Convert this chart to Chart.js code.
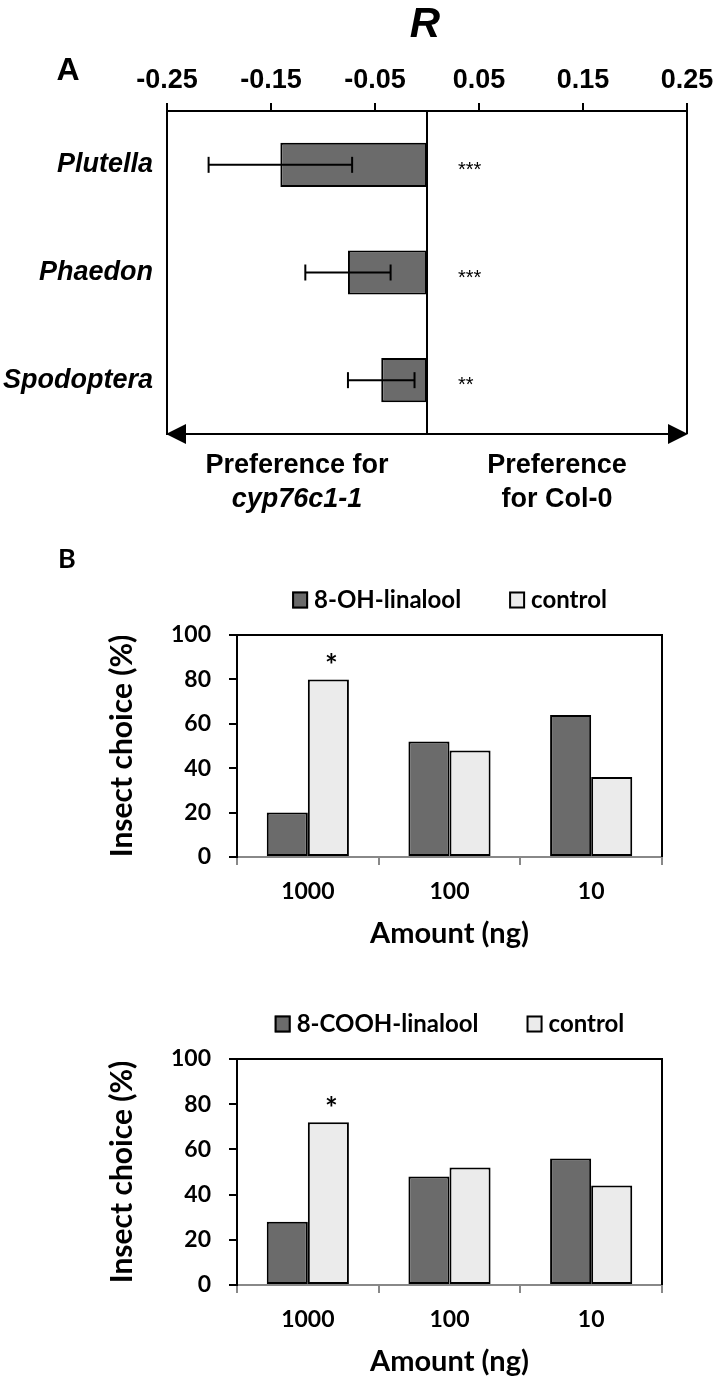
<!DOCTYPE html>
<html>
<head>
<meta charset="utf-8">
<title>R preference and insect choice</title>
<script src="https://cdn.jsdelivr.net/npm/chart.js@4.4.1/dist/chart.umd.min.js"></script>
<style>
  html, body { margin: 0; padding: 0; background: #fff; width: 713px; height: 1381px; overflow: hidden; }
  canvas { position: absolute; left: 0; }
  #chartA { top: 0; }
  #chartB1 { top: 540px; }
  #chartB2 { top: 960px; }
</style>
</head>
<body>
<canvas id="chartA" width="740" height="530"></canvas>
<canvas id="chartB1" width="713" height="420"></canvas>
<canvas id="chartB2" width="713" height="421"></canvas>
<script>
// ---- Panel A : R index (mean +/- error) per insect
const INSECTS = ['Plutella', 'Phaedon', 'Spodoptera'];
const R_MEAN = [-0.141, -0.076, -0.044];
const R_ERR = [0.069, 0.041, 0.032];
const R_SIG = ['***', '***', '**'];
const R_TICKS = [-0.25, -0.15, -0.05, 0.05, 0.15, 0.25];

// ---- Panel B : insect choice (%) per amount
const AMOUNTS = ['1000', '100', '10'];
const OH_LINALOOL = [20, 52, 64];
const OH_CONTROL = [80, 48, 36];
const COOH_LINALOOL = [28, 48, 56];
const COOH_CONTROL = [72, 52, 44];
const OH_SIG = ['*', '', ''];
const COOH_SIG = ['*', '', ''];
const PCT_TICKS = [0, 20, 40, 60, 80, 100];

const ARIAL = '"Liberation Sans", Arial, sans-serif';
const LATO = 'Lato, "Open Sans", sans-serif';
const DARK = '#6b6b6b';
const LIGHT = '#ebebeb';

function line(ctx, x1, y1, x2, y2){
  ctx.beginPath(); ctx.moveTo(x1, y1); ctx.lineTo(x2, y2); ctx.stroke();
}

// extra drawing for panel A: frame, zero line, error bars, stars, arrow, texts
const panelAExtras = {
  id: 'panelAExtras',
  afterDatasetsDraw(chart){
    const {ctx, chartArea: a, scales: {x}} = chart;
    const meta = chart.getDatasetMeta(0);
    const x0 = x.getPixelForValue(0);
    ctx.save();
    ctx.strokeStyle = '#000';
    ctx.lineWidth = 2;
    line(ctx, x0, a.top, x0, a.bottom);
    line(ctx, a.right, a.top, a.right, a.bottom);

    meta.data.forEach((bar, i) => {
      const xl = x.getPixelForValue(R_MEAN[i] - R_ERR[i]);
      const xr = x.getPixelForValue(R_MEAN[i] + R_ERR[i]);
      line(ctx, xl, bar.y, xr, bar.y);
      line(ctx, xl, bar.y - 8, xl, bar.y + 8);
      line(ctx, xr, bar.y - 8, xr, bar.y + 8);

      ctx.fillStyle = '#000';
      ctx.font = '20px ' + ARIAL;
      ctx.textAlign = 'left';
      ctx.textBaseline = 'alphabetic';
      ctx.fillText(R_SIG[i], x0 + 31, bar.y + 11);
    });

    // double arrow along the bottom
    const ya = a.bottom;
    line(ctx, a.left + 10, ya, a.right - 10, ya);
    ctx.fillStyle = '#000';
    ctx.beginPath();
    ctx.moveTo(a.left - 1, ya); ctx.lineTo(a.left + 19, ya - 10); ctx.lineTo(a.left + 19, ya + 10); ctx.closePath(); ctx.fill();
    ctx.beginPath();
    ctx.moveTo(a.right + 1, ya); ctx.lineTo(a.right - 19, ya - 10); ctx.lineTo(a.right - 19, ya + 10); ctx.closePath(); ctx.fill();

    // texts
    ctx.textAlign = 'center';
    ctx.textBaseline = 'alphabetic';
    ctx.font = 'italic bold 42px ' + ARIAL;
    ctx.fillText('R', x0 - 2, 37);
    ctx.font = 'bold 32px ' + ARIAL;
    ctx.fillText('A', 68, 80);

    const cl = (a.left + x0) / 2, cr = (x0 + a.right) / 2;
    ctx.font = 'bold 27px ' + ARIAL;
    ctx.fillText('Preference for', cl, 473);
    ctx.fillText('Preference', cr, 473);
    ctx.fillText('for Col-0', cr, 507);
    ctx.font = 'italic bold 27px ' + ARIAL;
    ctx.fillText('cyp76c1-1', cl, 507);
    ctx.restore();
  }
};

new Chart(document.getElementById('chartA'), {
  type: 'bar',
  data: {
    labels: INSECTS,
    datasets: [{
      data: R_MEAN,
      backgroundColor: DARK,
      borderColor: '#000',
      borderWidth: 2,
      borderSkipped: false,
      barPercentage: 0.41,
      categoryPercentage: 1
    }]
  },
  options: {
    indexAxis: 'y',
    responsive: false,
    animation: false,
    layout: { padding: { left: 0, top: 0, right: 53, bottom: 96 } },
    plugins: { legend: { display: false }, tooltip: { enabled: false } },
    scales: {
      x: {
        position: 'top',
        min: -0.25,
        max: 0.25,
        afterBuildTicks: s => { s.ticks = R_TICKS.map(v => ({ value: v })); },
        afterFit: s => { s.height = 111; },
        ticks: {
          callback: v => v.toFixed(2),
          font: { family: ARIAL, size: 27, weight: 'bold' },
          color: '#000', padding: 6, maxRotation: 0, autoSkip: false
        },
        grid: { drawOnChartArea: false, drawTicks: true, tickLength: 8, color: '#000', lineWidth: 2 },
        border: { display: true, color: '#000', width: 2 }
      },
      y: {
        afterFit: s => { s.width = 167; },
        ticks: { font: { family: ARIAL, size: 27, weight: 'bold', style: 'italic' }, color: '#000', padding: 14 },
        grid: { display: false, drawTicks: false },
        border: { display: true, color: '#000', width: 2 }
      }
    }
  },
  plugins: [panelAExtras]
});

// extra drawing for panel B charts: top/right frame, significance stars, legend
function panelBExtras(sig, letter){
  return {
    id: 'panelBExtras',
    afterDatasetsDraw(chart){
      const {ctx, chartArea: a} = chart;
      ctx.save();
      ctx.strokeStyle = '#000';
      ctx.lineWidth = 2;
      line(ctx, a.left - 1, a.top, a.right, a.top);
      line(ctx, a.right, a.top - 1, a.right, a.bottom);

      const meta = chart.getDatasetMeta(1);
      ctx.fillStyle = '#000';
      ctx.font = 'bold 30px ' + LATO;
      ctx.textAlign = 'center';
      ctx.textBaseline = 'alphabetic';
      meta.data.forEach((bar, i) => {
        if (sig[i]) ctx.fillText(sig[i], bar.x + 3, bar.y - 3);
      });
      ctx.restore();
    },
    afterDraw(chart){
      const {ctx, chartArea: a} = chart;
      ctx.save();
      ctx.font = 'bold 24px ' + LATO;
      const items = chart.data.datasets.map(d => ({ label: d.label, color: d.backgroundColor, w: ctx.measureText(d.label).width }));
      const BOX_W = 16, BOX_H = 17, GAP = 6, SPACE = 48;
      const total = items.reduce((s, it) => s + BOX_W + GAP + it.w, 0) + SPACE * (items.length - 1);
      let xx = (a.left + a.right) / 2 - total / 2;
      const yy = a.top - 35;
      items.forEach(it => {
        ctx.fillStyle = it.color;
        ctx.fillRect(xx, yy - BOX_H / 2, BOX_W, BOX_H);
        ctx.strokeStyle = '#000';
        ctx.lineWidth = 2;
        ctx.strokeRect(xx + 1, yy - BOX_H / 2 + 1, BOX_W - 2, BOX_H - 2);
        ctx.fillStyle = '#000';
        ctx.textAlign = 'left';
        ctx.textBaseline = 'middle';
        ctx.fillText(it.label, xx + BOX_W + GAP, yy);
        xx += BOX_W + GAP + it.w + SPACE;
      });
      if (letter){
        ctx.font = 'bold 27px ' + LATO;
        ctx.textAlign = 'center';
        ctx.fillText(letter, 67, 19);
      }
      ctx.restore();
    }
  };
}

function choiceChart(id, name, treated, control, sig, letter, top, xH, titlePad){
  return new Chart(document.getElementById(id), {
    type: 'bar',
    data: {
      labels: AMOUNTS,
      datasets: [
        { label: name, data: treated, backgroundColor: DARK, borderColor: '#000', borderWidth: 2, borderSkipped: false, barPercentage: 1, categoryPercentage: 0.58 },
        { label: 'control', data: control, backgroundColor: LIGHT, borderColor: '#000', borderWidth: 2, borderSkipped: false, barPercentage: 1, categoryPercentage: 0.58 }
      ]
    },
    options: {
      responsive: false,
      animation: false,
      layout: { padding: { left: 0, top: top, right: 51, bottom: 0 } },
      plugins: { legend: { display: false }, tooltip: { enabled: false } },
      scales: {
        x: {
          afterFit: s => { s.height = xH; },
          ticks: { font: { family: LATO, size: 23, weight: 'bold' }, color: '#000', padding: 13 },
          grid: { drawOnChartArea: false, drawTicks: true, tickLength: 8, color: '#888', lineWidth: 2, offset: true },
          border: { display: true, color: '#888', width: 2 },
          title: { display: true, text: 'Amount (ng)', font: { family: LATO, size: 29, weight: 'bold' }, color: '#000', padding: { top: 0, bottom: titlePad } }
        },
        y: {
          min: 0,
          max: 100,
          afterBuildTicks: s => { s.ticks = PCT_TICKS.map(v => ({ value: v })); },
          afterFit: s => { s.width = 237; },
          ticks: { font: { family: LATO, size: 23, weight: 'bold' }, color: '#000', padding: 18 },
          grid: { drawOnChartArea: false, drawTicks: true, tickLength: 8, color: '#000', lineWidth: 2 },
          border: { display: true, color: '#000', width: 2 },
          title: { display: true, text: 'Insect choice (%)', font: { family: LATO, size: 30, weight: 'bold' }, color: '#000', padding: { top: 104, bottom: 0 } }
        }
      }
    },
    plugins: [panelBExtras(sig, letter)]
  });
}

choiceChart('chartB1', '8-OH-linalool', OH_LINALOOL, OH_CONTROL, OH_SIG, 'B', 95, 103, 9);
choiceChart('chartB2', '8-COOH-linalool', COOH_LINALOOL, COOH_CONTROL, COOH_SIG, null, 99, 96, 2);
</script>
</body>
</html>
